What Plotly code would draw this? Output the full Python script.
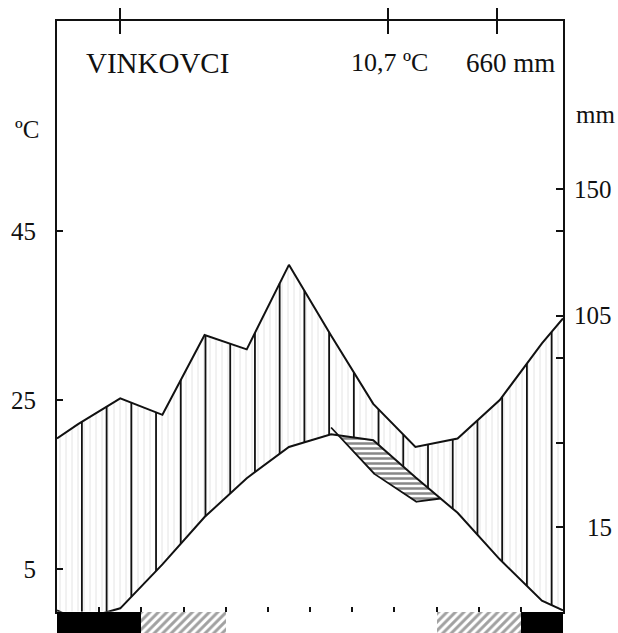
import numpy as np
import plotly.graph_objects as go

# ---------------- data ----------------
months = ['Jan', 'Feb', 'Mar', 'Apr', 'May', 'Jun', 'Jul', 'Aug', 'Sep', 'Oct', 'Nov', 'Dec']
temperature_c = [-1.0, 0.4, 5.6, 11.2, 15.8, 19.5, 21.0, 20.3, 15.9, 11.7, 6.2, 1.3]
precip_mm = [44.4, 50.5, 46.6, 65.5, 62.1, 82.1, 65.4, 49.2, 39.0, 41.0, 50.1, 63.5]
precip_edge_mm = [41.0, 69.4]          # curve value at the left / right frame edge
frost = ['sure', 'sure', 'possible', 'possible', 'none', 'none',
         'none', 'none', 'none', 'possible', 'possible', 'sure']
station = 'VINKOVCI'
mean_temp_label = '10,7 ºC'
annual_precip_label = '660 mm'
temp_tickvals = [5, 25, 45]
temp_ticktext = ['5', '25', '45']
mm_tickvals = [20, 40, 60, 70, 90, 100]
mm_labelvals = [20, 70, 100]
mm_labeltext = ['15', '105', '150']

MM_PER_C = 2.0      # main precipitation curve scale
MM_PER_C_DRY = 3.0  # second (1:3) precipitation curve scale

# ---------------- derived series ----------------
xm = np.arange(12) + 0.5
T = np.array(temperature_c)
P = np.array(precip_mm)
t_edge = (T[0] + T[-1]) / 2.0
tx = np.concatenate([[0.0], xm, [12.0]])
ty = np.concatenate([[t_edge], T, [t_edge]])
px_ = tx
py_ = np.concatenate([[precip_edge_mm[0]], P, [precip_edge_mm[1]]]) / MM_PER_C

xs = np.linspace(0, 12, 2401)
Pd = np.interp(xs, px_, py_)
Td = np.interp(xs, tx, ty)
Tclip = np.maximum(Td, 0)

# heavy vertical hatching of the humid period
hx = np.linspace(0.59, 11.73, 20)
hx_l, hy_l = [], []
for h in hx:
    lo = max(np.interp(h, tx, ty), 0.0)
    hi = np.interp(h, px_, py_)
    hx_l += [h, h, None]
    hy_l += [lo, hi, None]

# dry period: 1:3 precipitation curve below the temperature curve (Jul..Oct)
Q = P / MM_PER_C_DRY
xs2 = np.linspace(6.5, 9.5, 601)
Td2 = np.interp(xs2, xm, T)
Q2 = np.interp(xs2, xm, Q)
mask = Q2 < Td2
xd = xs2[mask]
poly_x = np.concatenate([xd, xd[::-1]])
poly_y = np.concatenate([Td2[mask], Q2[mask][::-1]])
last = np.where(mask)[0][-1]
qx = xs2[:last + 1]
qy = Q2[:last + 1]

# ---------------- geometry ----------------
W, H = 618, 633
ML, MR, MT, MB = 57, 55, 21, 0
plot_w = W - ML - MR
plot_h = H - MT - MB
base_px = 611.7
d0 = (H - base_px) / plot_h
ymax = (base_px - MT) / 8.45

def pxp(x):
    return (x - ML) / plot_w

def pyp(y):
    return (H - y) / plot_h

FONT = 'Liberation Serif'
INK = '#111111'

fig = go.Figure()

# light fine hatching between the curves
fig.add_trace(go.Scatter(x=xs, y=Tclip, mode='lines', line=dict(width=0),
                         hoverinfo='skip', showlegend=False))
fig.add_trace(go.Scatter(x=xs, y=Pd, mode='lines', line=dict(width=0),
                         fill='tonexty', fillcolor='rgba(0,0,0,0)',
                         fillpattern=dict(shape='|', fgcolor='#c4c4c4', bgcolor='rgba(0,0,0,0)',
                                          size=6, solidity=0.15),
                         hoverinfo='skip', showlegend=False))
# heavy vertical hatch lines
fig.add_trace(go.Scatter(x=hx_l, y=hy_l, mode='lines', line=dict(color=INK, width=1.8),
                         hoverinfo='skip', showlegend=False))
# dry period hatched polygon
fig.add_trace(go.Scatter(x=poly_x, y=poly_y, mode='lines', line=dict(width=0),
                         fill='toself', fillcolor='rgba(0,0,0,0)',
                         fillpattern=dict(shape='-', fgcolor=INK, bgcolor='white',
                                          size=5, solidity=0.5),
                         hoverinfo='skip', showlegend=False))
fig.add_trace(go.Scatter(x=qx, y=qy, mode='lines', line=dict(color=INK, width=1.8),
                         hoverinfo='skip', showlegend=False))
# curves
fig.add_trace(go.Scatter(x=px_, y=py_, mode='lines', line=dict(color=INK, width=2),
                         name='Precipitation', showlegend=False))
fig.add_trace(go.Scatter(x=tx, y=ty, mode='lines', line=dict(color=INK, width=2),
                         name='Temperature', showlegend=False))

# frost bar below the baseline
bar_colors = ['black' if f == 'sure' else 'white' for f in frost]
bar_shapes = ['/' if f == 'possible' else '' for f in frost]
fig.add_trace(go.Bar(x=xm, y=[1] * 12, width=1, xaxis='x', yaxis='y3',
                     marker=dict(color=bar_colors, line=dict(width=0),
                                 pattern=dict(shape=bar_shapes, fgcolor='black', bgcolor='white',
                                              size=6, solidity=0.5)),
                     hoverinfo='skip', showlegend=False))

# dummy traces so the auxiliary axes are drawn
fig.add_trace(go.Scatter(x=[None], y=[None], xaxis='x', yaxis='y2', showlegend=False, hoverinfo='skip'))
fig.add_trace(go.Scatter(x=[None], y=[None], xaxis='x2', yaxis='y', showlegend=False, hoverinfo='skip'))
fig.add_trace(go.Scatter(x=[None], y=[None], xaxis='x3', yaxis='y', showlegend=False, hoverinfo='skip'))

header_ticks = [1.5, 7.85, 10.43]

fig.update_layout(
    width=W, height=H,
    margin=dict(l=ML, r=MR, t=MT, b=MB, autoexpand=False),
    plot_bgcolor='white', paper_bgcolor='white',
    showlegend=False, bargap=0,
    font=dict(family=FONT, size=25, color=INK),
    xaxis=dict(range=[0, 12], tickvals=list(range(1, 12)), ticks='inside', ticklen=5,
               tickwidth=1.5, tickcolor=INK, showticklabels=False, showline=True,
               linecolor=INK, linewidth=2, mirror=True, showgrid=False, zeroline=False,
               anchor='y'),
    xaxis2=dict(range=[0, 12], overlaying='x', side='top', anchor='y', tickvals=header_ticks,
                ticks='outside', ticklen=12, tickwidth=2, tickcolor=INK,
                showticklabels=False, showgrid=False, zeroline=False, showline=False),
    xaxis3=dict(range=[0, 12], overlaying='x', side='top', anchor='y', tickvals=header_ticks,
                ticks='inside', ticklen=13, tickwidth=2, tickcolor=INK,
                showticklabels=False, showgrid=False, zeroline=False, showline=False),
    yaxis=dict(domain=[d0, 1], range=[0, ymax], tickvals=temp_tickvals, ticktext=temp_ticktext,
               ticks='inside', ticklen=6, tickwidth=1.5, tickcolor=INK, showline=True,
               linecolor=INK, linewidth=2, mirror=True, showgrid=False, zeroline=False,
               ticklabelstandoff=14, tickfont=dict(family=FONT, size=25, color=INK)),
    yaxis2=dict(overlaying='y', side='right', range=[0, ymax * MM_PER_C], tickvals=mm_tickvals,
                ticks='inside', ticklen=7, tickwidth=1.5, tickcolor=INK, showticklabels=False,
                showgrid=False, zeroline=False, showline=False),
    yaxis3=dict(domain=[0, d0], range=[0, 1], visible=False),
)

ann = [
    dict(text=station, x=pxp(157), y=pyp(63), size=29),
    dict(text=mean_temp_label, x=pxp(389), y=pyp(63), size=26),
    dict(text=annual_precip_label, x=pxp(510), y=pyp(63), size=27),
    dict(text='ºC', x=pxp(27), y=pyp(129), size=25),
    dict(text='mm', x=pxp(595), y=pyp(114), size=25),
]
for a in ann:
    fig.add_annotation(text=a['text'], x=a['x'], y=a['y'], xref='paper', yref='paper',
                       showarrow=False, xanchor='center', yanchor='middle',
                       font=dict(family=FONT, size=a['size'], color=INK))
for v, t in zip(mm_labelvals, mm_labeltext):
    fig.add_annotation(text=t, x=pxp(614), y=v, xref='paper', yref='y2', showarrow=False,
                       xanchor='right', yanchor='middle',
                       font=dict(family=FONT, size=25, color=INK))

fig.write_html('out.html', config={'displayModeBar': False},
               post_script="document.body.style.margin='0';document.body.style.overflow='hidden';")
